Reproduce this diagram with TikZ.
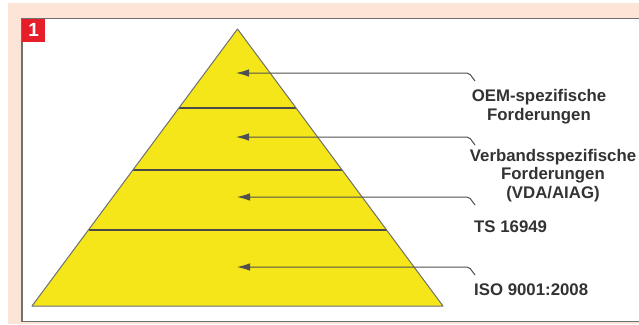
\documentclass[tikz,border=0pt]{standalone}
\usepackage{fontspec}
\setmainfont{Liberation Sans}
\usetikzlibrary{arrows.meta}
\definecolor{peach}{HTML}{FCE4D6}
\definecolor{pyryellow}{HTML}{F4E619}
\definecolor{boxred}{HTML}{E61E2A}
\definecolor{frame}{HTML}{707070}
\definecolor{lvl}{HTML}{4A4A4A}
\definecolor{conncol}{HTML}{505050}
\definecolor{txt}{HTML}{333333}
\tikzset{
  conn/.style={draw=conncol, line width=1pt, rounded corners=2pt, -{Latex[length=13pt,width=7.5pt]}},
  lbl/.style={font=\fontsize{16.8}{18.5}\selectfont\bfseries, text=txt, inner sep=0pt, align=center},
  level/.style={draw=lvl, line width=1.6pt},
}
\begin{document}
\begin{tikzpicture}[x=1pt,y=-1pt]
\useasboundingbox (0,0) rectangle (639,324);
\fill[white] (0,0) rectangle (639,324);
\fill[peach] (8,3) rectangle (639,324);
\fill[white] (22,18.5) rectangle (639,321.5);
\draw[frame, line width=1.3pt] (639,18.5) -- (22,18.5) -- (22,321.5) -- (639,321.5);
% number box
\node[fill=boxred, minimum width=23pt, minimum height=23pt, inner sep=0pt, anchor=north west,
      text=white, font=\fontsize{19}{19}\selectfont\bfseries] (num) at (22,18.5) {1};
% pyramid
\coordinate (apex) at (237.5,29);
\coordinate (bl) at (32,306);
\coordinate (br) at (443,306);
\fill[pyryellow] (apex) -- (br) -- (bl) -- cycle;
\draw[level] (178.9,108) -- (296.1,108);
\draw[level] (132.9,170) -- (342.1,170);
\draw[level] (88.5,230) -- (386.5,230);
\draw[draw=frame, line width=1pt, line join=round] (apex) -- (br) -- (bl) -- cycle;
% labels
\node[lbl] (oem) at (539,106.5) {OEM-spezifische\\Forderungen};
\node[lbl] (verb) at (553,175.5) {Verbandsspezifische\\Forderungen\\(VDA/AIAG)};
\node[lbl, anchor=west] (ts) at (474,227) {TS 16949};
\node[lbl, anchor=west] (iso) at (474,290) {ISO 9001:2008};
% connectors
\coordinate (t1) at (236,73);  \coordinate (b1) at (469,73);  \coordinate (e1) at (475,81);
\coordinate (t2) at (236,137); \coordinate (b2) at (469,137); \coordinate (e2) at (475,145);
\coordinate (t3) at (237,197); \coordinate (b3) at (469,197); \coordinate (e3) at (475,205);
\coordinate (t4) at (237,267); \coordinate (b4) at (469,267); \coordinate (e4) at (475,275);
\draw[conn] (e1) -- (b1) -- (t1);
\draw[conn] (e2) -- (b2) -- (t2);
\draw[conn] (e3) -- (b3) -- (t3);
\draw[conn] (e4) -- (b4) -- (t4);
\end{tikzpicture}
\end{document}
